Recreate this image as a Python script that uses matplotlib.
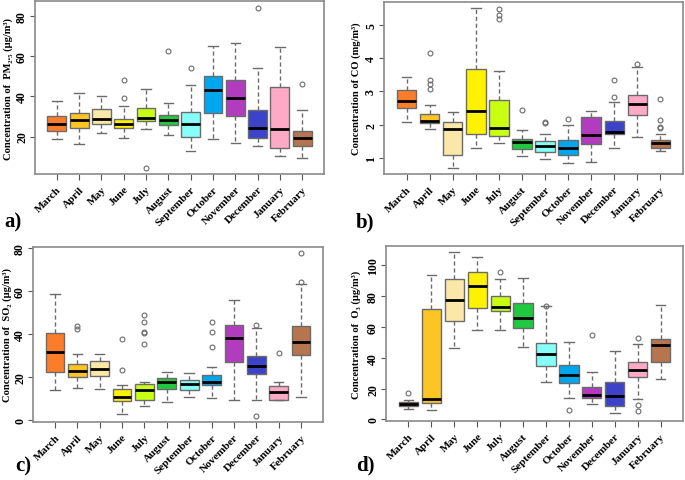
import matplotlib
matplotlib.use('Agg')
import matplotlib.pyplot as plt

plt.rcParams['font.family'] = ['Liberation Serif', 'DejaVu Serif']
plt.rcParams['font.weight'] = 'bold'

months = ['March', 'April', 'May', 'June', 'July', 'August', 'September',
          'October', 'November', 'December', 'January', 'February']
colors = ['#FB7D2A', '#FCC523', '#FBE8A8', '#FFF200', '#C8FF12', '#1FC83F',
          '#85FFF7', '#00A6EE', '#B23BBE', '#3C43C8', '#FEAAC6', '#B6744F']

# PM2.5 (ug/m3)
pm25_lo = [18.8, 16.2, 21.8, 19.2, 23.5, 20.8, 12.9, 18.8, 16.7, 15.4, 10.1, 9.1]
pm25_q1 = [22.6, 24.0, 26.3, 24.0, 27.6, 25.8, 19.8, 31.6, 30.4, 19.2, 14.5, 15.2]
pm25_med = [26.1, 28.4, 28.8, 26.3, 29.3, 28.3, 26.4, 43.3, 39.0, 24.0, 23.8, 19.5]
pm25_q3 = [30.1, 31.9, 33.6, 28.8, 34.2, 30.6, 32.4, 50.2, 48.1, 33.4, 44.6, 22.6]
pm25_hi = [37.5, 41.8, 40.2, 35.0, 43.5, 36.7, 45.8, 65.1, 66.6, 54.0, 64.6, 33.1]
pm25_out = [[], [], [], [48.1, 39.3], [4.3], [62.6], [54.2], [], [], [84.1], [], [46.1]]

# CO (mg/m3)
co_lo = [2.07, 1.87, 0.71, 1.31, 1.44, 1.06, 0.97, 0.85, 0.88, 1.30, 1.64, 1.22]
co_q1 = [2.49, 2.05, 1.10, 1.71, 1.65, 1.27, 1.18, 1.10, 1.42, 1.72, 2.29, 1.31]
co_med = [2.72, 2.10, 1.88, 2.42, 1.89, 1.47, 1.36, 1.30, 1.70, 1.78, 2.62, 1.44]
co_q3 = [3.04, 2.31, 2.09, 3.68, 2.74, 1.56, 1.50, 1.55, 2.23, 2.12, 2.89, 1.55]
co_hi = [3.44, 2.60, 2.38, 5.50, 3.61, 1.83, 1.71, 1.98, 2.41, 2.69, 3.74, 1.71]
co_out = [[], [4.16, 3.33, 3.21, 3.06], [], [], [5.47, 5.28, 5.17], [2.43],
          [2.08, 2.04], [2.17], [], [3.33, 2.83], [3.83], [2.78, 2.15, 1.92, 1.90]]

# SO2 (ug/m3)
so2_lo = [14.1, 14.9, 14.6, 2.8, 6.8, 8.8, 10.8, 10.4, 9.4, 9.7, 9.4, 10.8]
so2_q1 = [22.4, 20.3, 20.6, 8.9, 9.4, 14.8, 14.1, 16.3, 27.2, 21.4, 9.6, 30.3]
so2_med = [31.9, 22.9, 23.7, 11.1, 14.0, 17.9, 17.1, 17.7, 38.0, 25.4, 13.0, 36.3]
so2_q3 = [40.7, 26.2, 27.8, 14.8, 17.1, 19.8, 18.7, 20.9, 44.3, 30.1, 16.2, 43.8]
so2_hi = [58.6, 30.8, 30.8, 16.5, 17.7, 22.6, 22.0, 24.6, 56.0, 42.9, 17.7, 63.4]
so2_out = [[], [43.6, 42.5], [], [37.8, 23.5], [49.1, 45.8, 41.0, 40.7, 35.5], [],
           [], [45.5, 41.1, 34.1], [], [44.4, 2.0], [31.2], [77.4, 64.2]]

# O3 (ug/m3)
o3_lo = [6.9, 6.1, 46.5, 58.0, 58.0, 47.0, 24.2, 13.9, 10.2, 3.9, 13.4, 26.4]
o3_q1 = [8.4, 10.6, 63.9, 71.9, 70.3, 59.1, 34.4, 23.6, 13.6, 8.7, 27.7, 37.4]
o3_med = [9.7, 13.0, 77.5, 86.6, 72.9, 65.6, 42.6, 28.8, 15.8, 15.2, 32.3, 48.5]
o3_q3 = [11.3, 71.4, 91.1, 95.2, 79.9, 75.1, 49.6, 35.1, 21.2, 24.0, 37.4, 52.4]
o3_hi = [12.8, 93.5, 108.2, 105.4, 90.7, 91.6, 73.2, 50.0, 30.7, 44.4, 48.7, 74.2]
o3_out = [[17.1], [], [], [], [95.2], [], [73.2], [6.3], [55.0], [], [52.6, 9.1, 5.4], []]

W, H = 685, 481


def make_stats(lo, q1, med, q3, hi, out):
    stats = []
    for i in range(len(med)):
        stats.append(dict(whislo=lo[i], q1=q1[i], med=med[i], q3=q3[i],
                          whishi=hi[i], fliers=out[i]))
    return stats


def draw_panel(ax, stats, ylim, yticks, ylabel, label_px, box):
    bp = ax.bxp(stats, positions=range(1, 13), widths=0.84, patch_artist=True,
                boxprops=dict(edgecolor='#6b6b6b', linewidth=1.0),
                medianprops=dict(color='black', linewidth=2.0),
                whiskerprops=dict(color='#6b6b6b', linewidth=1.0, linestyle=(0, (3, 2))),
                capprops=dict(color='#6b6b6b', linewidth=1.0),
                flierprops=dict(marker='o', markersize=3.5, markerfacecolor='none',
                                markeredgecolor='#6b6b6b', markeredgewidth=0.8))
    for patch, c in zip(bp['boxes'], colors):
        patch.set_facecolor(c)
    ax.set_xlim(0.02, 12.98)
    ax.set_ylim(*ylim)
    ax.set_yticks(yticks)
    ax.set_yticklabels([str(t) for t in yticks], rotation=90, va='center',
                       fontsize=8.5, fontweight='bold')
    ax.set_xticks(range(1, 13))
    ax.set_xticklabels(months, rotation=45, ha='right', rotation_mode='anchor',
                       fontsize=8, fontweight='bold')
    for s in ax.spines.values():
        s.set_color('#8a8a8a')
        s.set_linewidth(1.2)
    ax.tick_params(colors='#555555', length=4, width=0.8, labelcolor='black')
    ax.tick_params(axis='y', length=3.5, pad=1.5)
    ax.set_ylabel(ylabel, fontsize=7.6, fontweight='bold', va='center')
    l, r = box[0], box[1]
    ax.yaxis.set_label_coords((label_px - l) / (r - l), 0.5)


fig = plt.figure(figsize=(W / 100, H / 100), dpi=100)

# axes boxes in pixels: left, right, top, bottom
box_a = (35, 324, 2, 175)
box_b = (384, 683, 3, 175)
box_c = (33, 323, 248, 423)
box_d = (386, 683, 247, 422)


def add_axes(b):
    l, r, t, btm = b
    return fig.add_axes([l / W, 1 - btm / H, (r - l) / W, (btm - t) / H])


ax_a = add_axes(box_a)
ax_b = add_axes(box_b)
ax_c = add_axes(box_c)
ax_d = add_axes(box_d)

draw_panel(ax_a, make_stats(pm25_lo, pm25_q1, pm25_med, pm25_q3, pm25_hi, pm25_out),
           (1.3, 87.6), [20, 40, 60, 80], 'Concentration of  PM₂.₅ (μg/m³)', 8, box_a)
draw_panel(ax_b, make_stats(co_lo, co_q1, co_med, co_q3, co_hi, co_out),
           (0.52, 5.68), [1, 2, 3, 4, 5], 'Concentration of CO (mg/m³)', 356, box_b)
draw_panel(ax_c, make_stats(so2_lo, so2_q1, so2_med, so2_q3, so2_hi, so2_out),
           (-0.7, 80.4), [0, 20, 40, 60, 80], 'Concentration of  SO₂ (μg/m³)', 7, box_c)
draw_panel(ax_d, make_stats(o3_lo, o3_q1, o3_med, o3_q3, o3_hi, o3_out),
           (-1.0, 112.3), [0, 20, 40, 60, 80, 100], 'Concentration of  O₃ (μg/m³)', 356, box_d)

# panel letters, placed in figure pixels
for letter, px, py in [('a)', 4, 222), ('b)', 356, 222), ('c)', 15, 466), ('d)', 356, 465)]:
    fig.text(px / W, 1 - py / H, letter, fontsize=15, fontweight='bold',
             ha='left', va='center')

fig.savefig('out.png', dpi=100)
